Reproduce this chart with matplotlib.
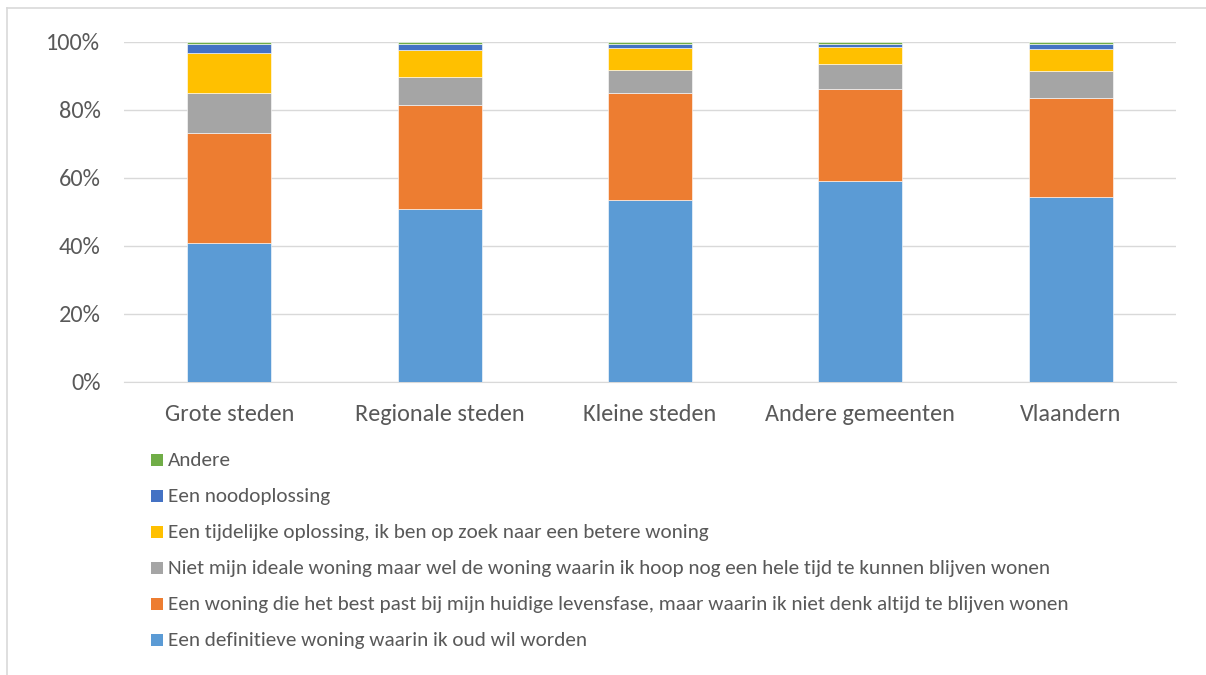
import matplotlib
matplotlib.use("Agg")
import matplotlib.pyplot as plt
from matplotlib.patches import Rectangle
from matplotlib.lines import Line2D
from matplotlib.ticker import PercentFormatter
import numpy as np

categories = ["Grote steden", "Regionale steden", "Kleine steden", "Andere gemeenten", "Vlaandern"]
series_names = [
    "Een definitieve woning waarin ik oud wil worden",
    "Een woning die het best past bij mijn huidige levensfase, maar waarin ik niet denk altijd te blijven wonen",
    "Niet mijn ideale woning maar wel de woning waarin ik hoop nog een hele tijd te kunnen blijven wonen",
    "Een tijdelijke oplossing, ik ben op zoek naar een betere woning",
    "Een noodoplossing",
    "Andere",
]
definitief = [40.8, 50.9, 53.6, 59.2, 54.3]
levensfase = [32.3, 30.7, 31.3, 26.9, 29.1]
niet_ideaal = [11.9, 8.1, 6.8, 7.4, 8.0]
tijdelijk = [11.9, 7.9, 6.5, 5.1, 6.6]
nood = [2.6, 1.9, 1.3, 0.9, 1.5]
andere = [0.5, 0.5, 0.5, 0.5, 0.5]
series_values = [definitief, levensfase, niet_ideaal, tijdelijk, nood, andere]
colors = ["#5B9BD5", "#ED7D31", "#A5A5A5", "#FFC000", "#4472C4", "#70AD47"]

font = ["Carlito", "Liberation Sans", "DejaVu Sans"]
plt.rcParams["font.family"] = font
text_color = "#595959"

W, H = 1206, 675
fig = plt.figure(figsize=(W / 100, H / 100), dpi=100)
fig.patch.set_facecolor("white")
# outer chart border (top and left edges visible)
fig.lines.append(Line2D([7 / W, 1.0], [1 - 7.5 / H, 1 - 7.5 / H], transform=fig.transFigure,
                        color="#D9D9D9", linewidth=1.2))
fig.lines.append(Line2D([6.5 / W, 6.5 / W], [0.0, 1 - 7.5 / H], transform=fig.transFigure,
                        color="#D9D9D9", linewidth=1.2))

ax = fig.add_axes([124 / W, 1 - 382 / H, (1176 - 124) / W, (382 - 42) / H])
x = np.arange(len(categories))
bottom = np.zeros(len(categories))
for name, vals, c in zip(series_names, series_values, colors):
    v = np.array(vals) / 100.0
    ax.bar(x, v, bottom=bottom, width=0.4, color=c, edgecolor="white", linewidth=0.4, zorder=3)
    bottom += v

ax.set_xlim(-0.5, len(categories) - 0.5)
ax.set_ylim(0, 1)
ax.set_yticks(np.linspace(0, 1, 6))
ax.yaxis.set_major_formatter(PercentFormatter(1.0, decimals=0))
ax.grid(axis="y", color="#D9D9D9", linewidth=1.0, zorder=0)
for s in ["top", "right", "left"]:
    ax.spines[s].set_visible(False)
ax.spines["bottom"].set_color("#D9D9D9")
ax.tick_params(axis="both", length=0, colors=text_color, labelsize=17.5)
ax.tick_params(axis="x", pad=16)
ax.tick_params(axis="y", pad=17)
ax.set_xticks(x)
ax.set_xticklabels(categories)

# Legend drawn as a single column, last series on top
legend_items = list(zip(series_names, colors))[::-1]
row0, row_step, sq = 460.0, 36.0, 12.0
sq_x, txt_x = 151.0, 168.0
for i, (name, c) in enumerate(legend_items):
    yc = row0 + i * row_step
    fig.patches.append(Rectangle((sq_x / W, 1 - (yc + sq / 2) / H), sq / W, sq / H,
                                 transform=fig.transFigure, facecolor=c, edgecolor="none"))
    fig.text(txt_x / W, 1 - (yc + 6) / H, name, fontsize=15.35, color=text_color,
             ha="left", va="baseline")

fig.savefig("out.png", dpi=100, facecolor="white")
